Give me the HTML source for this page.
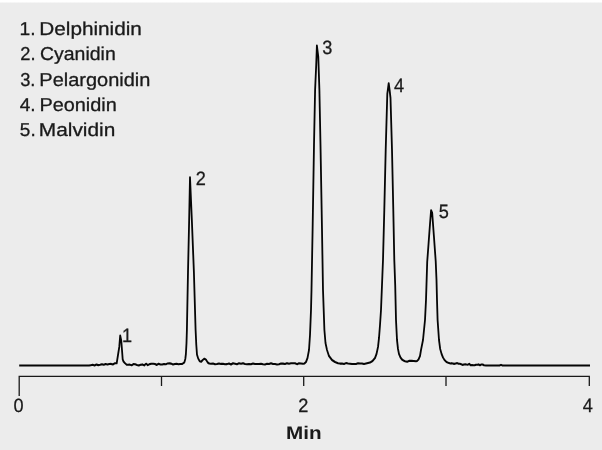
<!DOCTYPE html>
<html><head><meta charset="utf-8"><title>Chromatogram</title>
<style>
html,body{margin:0;padding:0;background:#ececec;}
body{width:602px;height:450px;overflow:hidden;}
svg{display:block;}
text{font-family:"Liberation Sans",sans-serif;fill:#1a1a1a;stroke:#1a1a1a;stroke-width:0.3px;text-rendering:geometricPrecision;}
</style></head><body>
<svg width="602" height="450" viewBox="0 0 602 450">
<defs><linearGradient id="tg" x1="0" y1="0" x2="0" y2="1"><stop offset="0" stop-color="#ffffff"/><stop offset="0.45" stop-color="#ffffff"/><stop offset="1" stop-color="#ececec"/></linearGradient></defs>
<rect x="0" y="0" width="602" height="450" fill="#ececec"/>
<rect x="0" y="0" width="602" height="3.5" fill="url(#tg)"/>
<g font-size="18.6">
<text x="19.48" y="35" textLength="16.04" lengthAdjust="spacingAndGlyphs">1.</text>
<text x="20.36" y="60" textLength="15.23" lengthAdjust="spacingAndGlyphs">2.</text>
<text x="20.15" y="86" textLength="15.23" lengthAdjust="spacingAndGlyphs">3.</text>
<text x="19.72" y="111" textLength="15.93" lengthAdjust="spacingAndGlyphs">4.</text>
<text x="19.86" y="136" textLength="15.82" lengthAdjust="spacingAndGlyphs">5.</text>
<text x="39.25" y="35" textLength="102.66" lengthAdjust="spacingAndGlyphs">Delphinidin</text>
<text x="40.0" y="60" textLength="75.74" lengthAdjust="spacingAndGlyphs">Cyanidin</text>
<text x="39.35" y="86" textLength="111.02" lengthAdjust="spacingAndGlyphs">Pelargonidin</text>
<text x="39.4" y="111" textLength="77.38" lengthAdjust="spacingAndGlyphs">Peonidin</text>
<text x="38.8" y="136" textLength="76.46" lengthAdjust="spacingAndGlyphs">Malvidin</text>
</g>
<path d="M19.20,317.87 L88.00,317.87 L89.00,317.83 L90.85,317.54 L92.69,317.25 L94.54,317.79 L96.38,317.01 L98.23,317.50 L100.08,317.22 L101.92,316.77 L103.77,317.25 L105.62,316.60 L107.46,317.01 L109.31,316.49 L111.15,316.44 L113.00,316.87 L113.30,316.61 L115.00,315.83 L116.70,315.91 L118.00,308.70 L119.30,301.48 L120.20,291.83 L121.30,296.52 L122.00,304.35 L122.70,312.43 L123.50,314.35 L124.80,315.65 L126.70,317.13 L128.00,317.22 L129.80,317.08 L131.60,317.68 L133.40,316.56 L135.20,316.69 L137.00,317.30 L138.80,317.78 L140.60,317.18 L142.40,316.87 L144.20,317.75 L146.00,316.28 L147.80,317.52 L149.60,316.61 L151.40,316.36 L153.20,316.29 L155.00,316.57 L156.80,317.34 L158.60,316.32 L160.40,316.93 L162.20,316.99 L164.00,316.55 L165.80,316.81 L167.60,316.02 L169.40,315.99 L171.20,316.20 L173.00,316.92 L174.80,316.50 L176.60,316.30 L178.40,316.70 L180.20,316.47 L182.00,316.52 L183.00,316.00 L184.40,315.04 L185.30,312.17 L185.90,307.83 L186.50,298.26 L186.90,286.96 L188.00,236.52 L189.15,191.30 L190.00,154.17 L191.85,191.30 L193.90,236.52 L195.60,286.96 L196.30,300.00 L197.00,308.43 L198.20,311.74 L199.70,314.17 L201.20,314.61 L202.70,313.04 L204.40,311.91 L206.20,313.04 L207.70,315.22 L209.20,316.09 L211.00,316.35 L213.00,316.10 L215.00,316.71 L217.00,316.59 L219.00,316.04 L221.00,316.44 L223.00,316.38 L225.00,316.80 L227.00,316.63 L229.00,316.09 L231.00,316.93 L233.00,315.88 L235.00,316.25 L237.00,316.66 L239.00,315.92 L241.00,316.33 L243.00,315.79 L245.00,316.55 L247.00,316.67 L249.00,316.44 L251.00,316.80 L253.00,316.12 L255.00,316.59 L257.00,316.46 L259.00,316.45 L261.00,316.29 L263.00,316.76 L265.00,316.89 L267.00,316.32 L269.00,316.55 L271.00,315.81 L273.00,316.59 L275.00,316.53 L277.00,316.95 L279.00,316.74 L281.00,316.09 L283.00,316.21 L285.00,316.55 L287.00,315.77 L289.00,316.30 L291.00,315.94 L293.00,315.88 L295.00,315.81 L297.00,316.67 L299.00,315.90 L301.00,316.04 L303.00,316.35 L304.50,316.00 L306.00,314.78 L307.50,311.30 L309.00,304.35 L310.00,291.30 L311.00,269.57 L311.50,252.17 L312.60,200.00 L314.00,126.09 L315.10,78.26 L316.20,56.52 L316.90,39.65 L318.30,49.57 L319.40,78.26 L320.50,126.09 L322.00,200.00 L323.00,252.17 L324.40,286.96 L325.50,298.26 L327.00,304.35 L329.00,309.57 L332.00,313.04 L335.00,314.78 L338.00,315.83 L340.00,316.17 L342.00,316.06 L344.00,316.56 L346.00,315.74 L348.00,316.12 L350.00,316.23 L352.00,316.57 L354.00,316.51 L356.00,316.55 L358.00,315.94 L360.00,316.09 L362.00,316.03 L364.00,316.57 L366.00,316.17 L370.00,315.30 L372.50,313.91 L375.00,311.30 L376.50,307.83 L378.00,301.74 L379.00,293.91 L380.00,282.61 L381.00,269.57 L382.40,239.13 L383.00,226.09 L384.30,182.61 L385.70,130.43 L387.30,81.74 L388.70,72.35 L389.60,78.26 L390.50,85.22 L392.00,130.43 L393.30,182.61 L394.30,226.09 L395.20,247.83 L396.00,278.26 L397.00,295.65 L398.00,303.48 L399.00,307.83 L400.50,310.87 L402.00,312.61 L404.00,313.74 L405.00,314.09 L407.20,314.48 L409.40,313.78 L411.60,313.81 L413.80,313.85 L416.00,314.09 L417.00,313.91 L418.50,312.61 L420.00,309.57 L421.00,304.35 L423.00,295.65 L425.00,278.26 L426.00,260.87 L427.20,227.83 L428.60,211.30 L430.00,194.78 L431.10,182.78 L432.20,185.22 L433.90,205.22 L435.70,226.96 L436.50,243.48 L437.00,260.87 L437.60,278.26 L439.00,295.65 L440.20,303.48 L441.60,307.83 L443.00,310.87 L444.50,313.04 L446.50,314.78 L449.00,315.74 L450.50,316.09 L451.84,315.78 L453.18,316.19 L454.52,316.40 L455.86,316.01 L457.20,315.71 L458.54,316.35 L459.88,316.34 L461.22,316.68 L462.56,317.28 L463.90,316.98 L465.24,316.80 L466.58,317.00 L467.92,317.15 L469.26,316.34 L470.60,317.58 L471.94,317.48 L473.28,317.67 L474.62,317.63 L475.96,317.13 L477.30,317.20 L478.64,316.85 L479.98,317.65 L481.32,316.92 L482.66,316.99 L484.00,317.65 L486.00,317.83 L499.50,317.87 L501.00,317.30 L502.50,317.87 L590.00,317.87" fill="none" stroke="#050505" stroke-width="1.8" stroke-linejoin="round" transform="scale(1,1.15)"/>
<path d="M19.2,396 V376.3 H589.3 V386 M161.5,376.3 V386 M303.7,376.3 V386 M446,376.3 V386" fill="none" stroke="#1a1a1a" stroke-width="1.3"/>
<g font-size="19.3" text-anchor="middle">
<text transform="translate(18.6,412.0) scale(0.94,1)">0</text>
<text transform="translate(303.3,412.0) scale(0.94,1)">2</text>
<text transform="translate(587.8,412.0) scale(0.94,1)">4</text>
<text transform="translate(127.0,342) scale(0.94,1)">1</text>
<text transform="translate(200.8,184.8) scale(0.94,1)">2</text>
<text transform="translate(327.3,54.1) scale(0.94,1)">3</text>
<text transform="translate(399.0,91.7) scale(0.94,1)">4</text>
<text transform="translate(443.7,218.3) scale(0.94,1)">5</text>
</g>
<text x="285.94" y="439" font-size="18.3" font-weight="bold" style="stroke:none" textLength="35.6" lengthAdjust="spacingAndGlyphs">Min</text>
</svg>
</body></html>
